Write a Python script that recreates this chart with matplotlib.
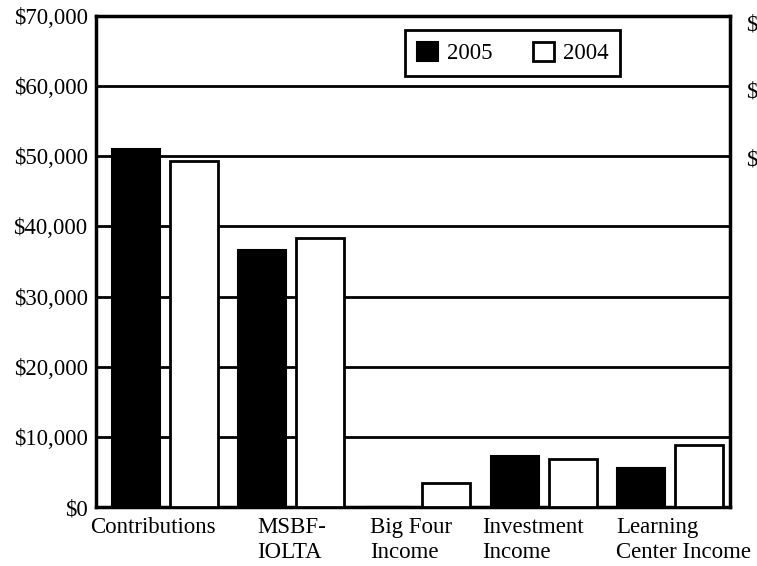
import matplotlib.pyplot as plt
import numpy as np
from matplotlib.ticker import FuncFormatter

plt.rcParams['font.family'] = ['Liberation Serif', 'DejaVu Serif']

categories = ["Contributions", "MSBF-\nIOLTA", "Big Four\nIncome",
              "Investment\nIncome", "Learning\nCenter Income"]
vals_2005 = [51000, 36700, 0, 7300, 5500]
vals_2004 = [49300, 38300, 3400, 6800, 8800]
yticks = np.arange(0, 70001, 10000)

# left offsets of the category labels (the original is not centred)
label_offsets = [-0.60, -0.27, -0.38, -0.49, -0.43]

fig = plt.figure(figsize=(7.57, 5.66), dpi=100)
ax = fig.add_axes([0.1268, 0.1042, 0.8375, 0.8675])

x = np.arange(len(categories))
w = 0.38
ax.bar(x - 0.235, vals_2005, width=w, color="black", edgecolor="black",
       linewidth=1.5, label="2005", zorder=3)
ax.bar(x + 0.225, vals_2004, width=w, color="white", edgecolor="black",
       linewidth=2, label="2004", zorder=3)

ax.set_xlim(-0.55, 4.47)
ax.set_ylim(0, 70000)
ax.set_yticks(yticks)
ax.yaxis.set_major_formatter(FuncFormatter(lambda v, p: "${:,.0f}".format(v)))
ax.yaxis.grid(True, color="black", linewidth=2)
ax.set_axisbelow(True)
ax.tick_params(axis="y", length=0, pad=6, labelsize=16.5)
ax.tick_params(axis="x", length=0, labelbottom=False)
ax.set_xticks([])
for s in ax.spines.values():
    s.set_linewidth(2.5)

trans = ax.get_xaxis_transform()
for i, lab in enumerate(categories):
    ax.text(i + label_offsets[i], -0.02, lab, transform=trans, ha="left",
            va="top", fontsize=16.5, linespacing=1.25)

leg = ax.legend(loc="upper left", bbox_to_anchor=(0.47, 0.994), ncol=2,
                fontsize=16.5, fancybox=False, framealpha=1,
                handlelength=0.9, handleheight=0.9, handletextpad=0.4,
                columnspacing=1.8, borderpad=0.5, borderaxespad=0.5)
leg.get_frame().set_edgecolor("black")
leg.get_frame().set_linewidth(2)
leg._legend_box.sep = 0

# cut-off labels of the neighbouring chart
for yy in [0.955, 0.838, 0.718]:
    fig.text(0.985, yy, "$", fontsize=16.5, va="center", ha="left")

fig.savefig("out.png", dpi=100)
